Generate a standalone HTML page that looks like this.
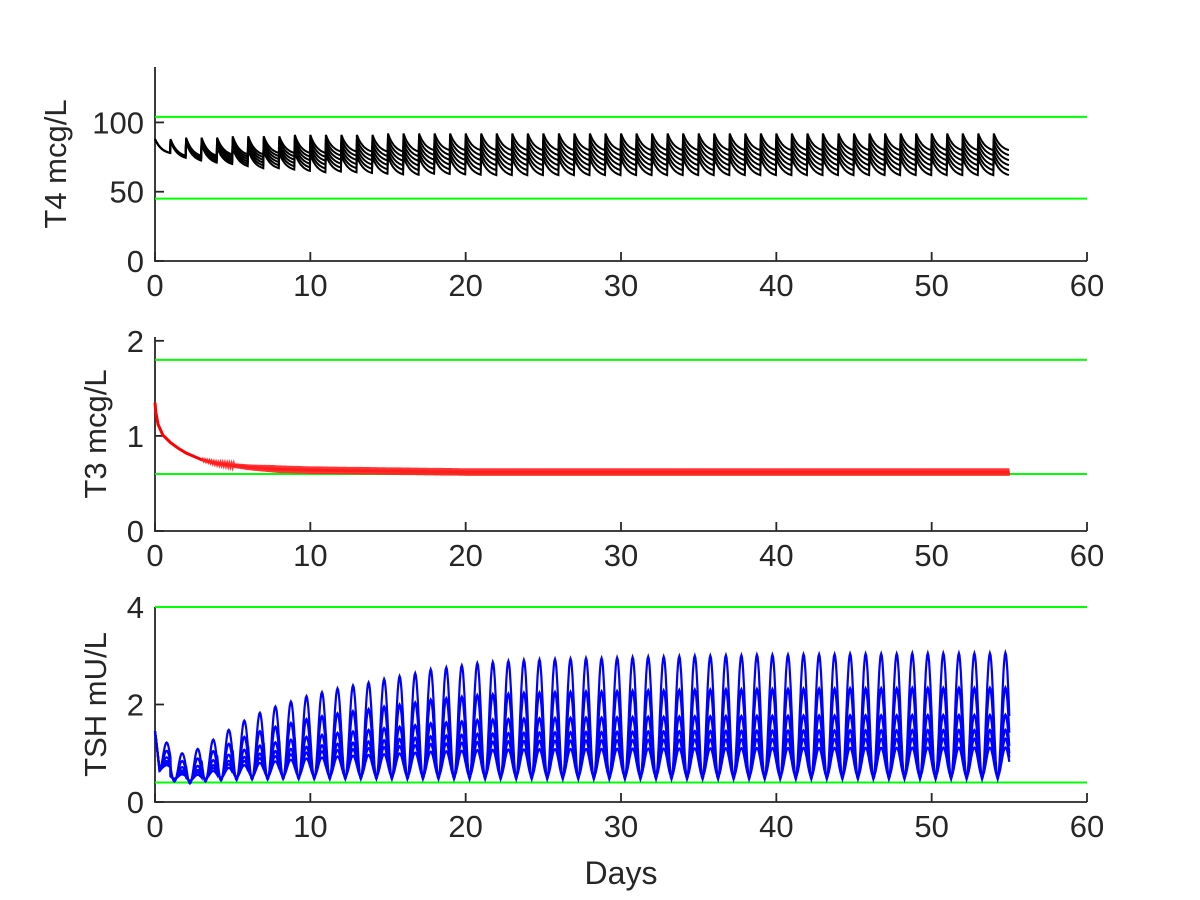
<!DOCTYPE html>
<html><head><meta charset="utf-8"><style>
html,body{margin:0;padding:0;background:#fff}
svg{display:block}
text{font-family:"Liberation Sans",Arial,sans-serif;fill:#262626}
</style></head><body>
<svg id="fig" width="1200" height="900" viewBox="0 0 1200 900"></svg>
<script>
// ---- data ----
const xTicks=[0,10,20,30,40,50,60];
const t4Ticks=[0,50,100];
const t3Ticks=[0,1,2];
const tshTicks=[0,2,4];
const t4Range=[45,104];
const t3Range=[0.6,1.8];
const tshRange=[0.4,4];
// T4 top-line per-day peak and trough, and spacing between the 6 lines
const t4Peak=[88,88,89,89,89,90,90,90,90,91,91,91,91,91,91,92,92,92,92,92,92,92,92,92,92,92,92,92,92,92,92,92,92,92,92,92,92,92,92,92,92,92,92,92,92,92,92,92,92,92,92,92,92,92,92];
const t4Trough=[78,76,76,76,77,77,77,78,78,78,78,79,79,79,79,79,79,80,80,80,80,80,80,80,80,80,80,80,80,80,80,80,80,80,80,80,80,80,80,80,80,80,80,80,80,80,80,80,80,80,80,80,80,80,80];
const t4Spread=[0,0.3,0.7,1,1.4,1.7,2,2.2,2.4,2.6,2.8,2.9,3,3.1,3.2,3.3,3.35,3.4,3.45,3.5,3.55,3.6,3.6,3.6,3.6,3.6,3.6,3.6,3.6,3.6,3.6,3.6,3.6,3.6,3.6,3.6,3.6,3.6,3.6,3.6,3.6,3.6,3.6,3.6,3.6,3.6,3.6,3.6,3.6,3.6,3.6,3.6,3.6,3.6,3.6];
// T3 decay
const t3Days=[0,0.05,0.2,0.5,1,1.5,2,3,4,5,6,7,8,10,15,20,30,40,50,55];
const t3Vals=[1.35,1.25,1.12,1.01,0.93,0.87,0.82,0.75,0.71,0.69,0.67,0.66,0.65,0.64,0.63,0.62,0.62,0.62,0.62,0.62];
// TSH top-line per-day peak, per-day trough, line scales
const tshPeak=[1.22,1.0,1.09,1.28,1.48,1.67,1.83,1.96,2.06,2.17,2.25,2.33,2.39,2.45,2.52,2.58,2.64,2.72,2.76,2.8,2.85,2.87,2.89,2.91,2.92,2.93,2.94,2.95,2.95,2.96,2.97,2.98,2.98,2.99,3.0,3.0,3.01,3.01,3.02,3.02,3.02,3.03,3.03,3.03,3.04,3.04,3.04,3.04,3.05,3.05,3.05,3.05,3.05,3.05,3.06];
const tshTrough=[0.6,0.42,0.38,0.42,0.44,0.45,0.46,0.46,0.47,0.47,0.47,0.47,0.47,0.47,0.47,0.47,0.47,0.47,0.47,0.47,0.47,0.47,0.47,0.47,0.47,0.47,0.47,0.47,0.47,0.47,0.47,0.47,0.47,0.47,0.47,0.47,0.47,0.47,0.47,0.47,0.47,0.47,0.47,0.47,0.47,0.47,0.47,0.47,0.47,0.47,0.47,0.47,0.47,0.47,0.47];
const tshScales=[1,0.725,0.51,0.39,0.32,0.25];
const tshStart=1.45;

const NS='http://www.w3.org/2000/svg';
const svg=document.getElementById('fig');
function mk(tag,attrs,parent){const e=document.createElementNS(NS,tag);for(const k in attrs)e.setAttribute(k,attrs[k]);(parent||svg).appendChild(e);return e;}
const X0=155,X1=1087;
const xs=v=>X0+(v/60)*(X1-X0);
const panels=[
 {name:'t4',top:67,bot:261,max:140,ticks:t4Ticks,label:'T4 mcg/L',lx:55,range:t4Range},
 {name:'t3',top:337,bot:531,max:2.04,ticks:t3Ticks,label:'T3 mcg/L',lx:95,range:t3Range},
 {name:'tsh',top:607,bot:802,max:4,ticks:tshTicks,label:'TSH mU/L',lx:95,range:tshRange}
];
panels.forEach(p=>{p.ys=v=>p.bot-(v/p.max)*(p.bot-p.top);});

function drawAxes(p){
 const g=mk('g',{});
 
 
 const ax=mk('path',{d:`M${X0},${p.top}V${p.bot}H${X1}`,fill:'none',stroke:'#262626','stroke-width':1.8},g);
 
 
 xTicks.forEach(t=>{
  const x=xs(t);
  mk('line',{x1:x,x2:x,y1:p.bot,y2:p.bot-9,stroke:'#262626','stroke-width':1.8},g);
  const tx=mk('text',{x:x,y:p.bot+35,'font-size':31,'text-anchor':'middle'},g);
  tx.textContent=t;
  
  
 });
 p.ticks.forEach(t=>{
  const y=p.ys(t);
  mk('line',{x1:X0,x2:X0+9,y1:y,y2:y,stroke:'#262626','stroke-width':1.8},g);
  const tx=mk('text',{x:X0-11,y:y+11,'font-size':31,'text-anchor':'end'},g);
  tx.textContent=t;
  
  
 });
 const cy=(p.top+p.bot)/2;
 const yl=mk('text',{x:p.lx,y:cy,'font-size':31,'text-anchor':'middle',transform:`rotate(-90 ${p.lx} ${cy})`,dy:11},g);
 yl.textContent=p.label;
 
 
 p.range.forEach(v=>{
  const l=mk('line',{x1:X0,x2:X1,y1:p.ys(v),y2:p.ys(v),stroke:'#00ff00','stroke-width':2});
  
  
 });
}
panels.forEach(drawAxes);

// T4 sawtooth lines
(function(){
 const p=panels[0];
 for(let k=0;k<6;k++){
  let d='';
  for(let day=0;day<55;day++){
   const pk=t4Peak[day]-k*t4Spread[day], tr=t4Trough[day]-k*t4Spread[day];
   for(let s=0;s<=20;s++){
    const f=s/20, t=day+f*0.97;
    const vv=pk-(pk-tr)*(1-Math.exp(-2.2*f))/(1-Math.exp(-2.2));
    d+=(d?'L':'M')+xs(t).toFixed(1)+','+p.ys(vv).toFixed(1);
   }
  }
  const l=mk('path',{d:d,fill:'none',stroke:'#000','stroke-width':2});
  
  
 }
})();

// T3
(function(){
 const p=panels[1];
 let up='';
 for(let i=0;i<t3Days.length;i++){
  up+=(up?'L':'M')+xs(t3Days[i]).toFixed(1)+','+p.ys(t3Vals[i]).toFixed(1);
 }
 const l=mk('path',{d:up,fill:'none',stroke:'#ff0000','stroke-width':3});
 
 
 let z='';
 for(let i=0;i<t3Days.length-1;i++){
  const a=t3Days[i],b=t3Days[i+1];
  if(b<=3)continue;
  const n=Math.ceil((b-a)*14);
  for(let s=0;s<=n;s++){
   const t=a+(b-a)*s/n, v=t3Vals[i]+(t3Vals[i+1]-t3Vals[i])*s/n;
   const w=Math.min(0.038,0.006*(t-3)+0.01);
   z+=(z?'L':'M')+xs(t).toFixed(1)+','+p.ys(v+(s%2?w:-w)).toFixed(1);
  }
 }
 const b=mk('path',{d:z,fill:'none',stroke:'#ff2020','stroke-width':2.2,'stroke-opacity':0.9});
 
 
})();

// TSH
(function(){
 const p=panels[2];
 tshScales.forEach((sc,k)=>{
  let d='';
  for(let day=0;day<55;day++){
   const tr=tshTrough[day]+(1-sc)*0.08;
   const pk=tshTrough[day]+(tshPeak[day]-tshTrough[day])*sc;
   for(let s=0;s<=24;s++){
    const t=day+s/24;
    const c=(1+Math.cos(2*Math.PI*(t-day-0.75)))/2;
    let v=tr+(pk-tr)*c;
    if(day===0&&t<0.3)v=tshStart+(v-tshStart)*(t/0.3);
    d+=(d?'L':'M')+xs(t).toFixed(1)+','+p.ys(v).toFixed(1);
   }
  }
  const l=mk('path',{d:d,fill:'none',stroke:'#0000ff','stroke-width':2.2});
  
  
 });
})();

const xl=mk('text',{x:621,y:884,'font-size':32,'text-anchor':'middle'});
xl.textContent='Days';


</script>
</body></html>
